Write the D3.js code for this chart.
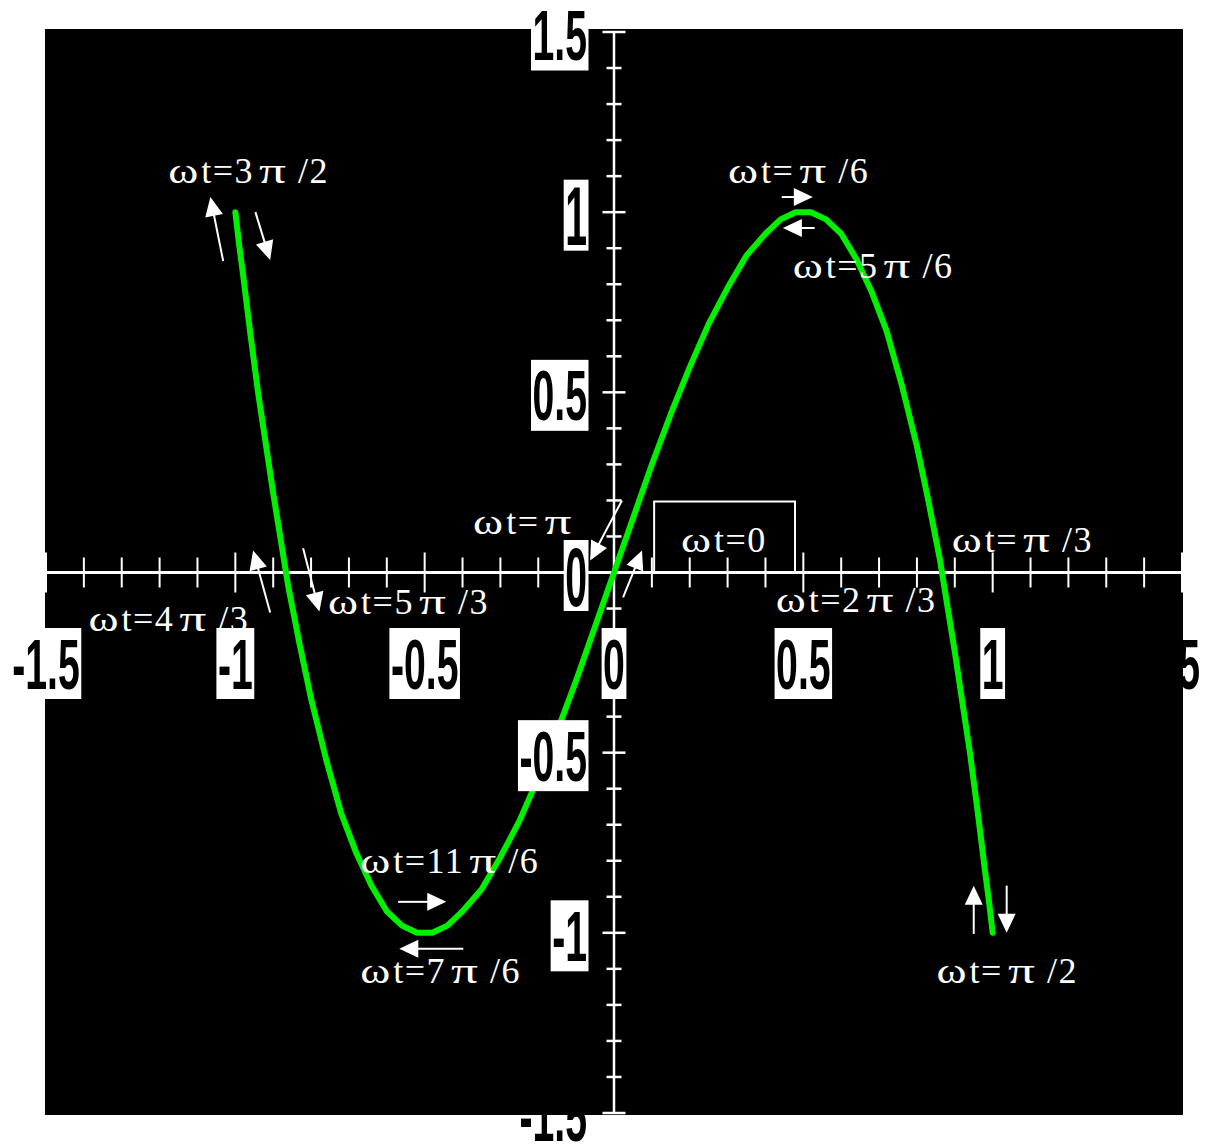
<!DOCTYPE html>
<html>
<head>
<meta charset="utf-8">
<script src="https://cdn.jsdelivr.net/npm/d3@7/dist/d3.min.js"></script>
<style>
  body { margin: 0; background: #fff; }
  svg { display: block; }
</style>
</head>
<body>
<svg id="chart" width="1207" height="1145"></svg>
<script>
// Trajectory of the point, x against y, sampled along the curve
const curveX = [-1.00, -0.99, -0.98, -0.96, -0.94, -0.92, -0.90, -0.88, -0.86, -0.83, -0.80, -0.76, -0.72, -0.68, -0.64, -0.60, -0.56, -0.52, -0.50, -0.48, -0.44, -0.40, -0.35, -0.30, -0.25, -0.20, -0.15, -0.10, -0.05,
                 0.00, 0.05, 0.10, 0.15, 0.20, 0.25, 0.30, 0.35, 0.40, 0.44, 0.48, 0.50, 0.52, 0.56, 0.60, 0.64, 0.68, 0.72, 0.76, 0.80, 0.83, 0.86, 0.88, 0.90, 0.92, 0.94, 0.96, 0.98, 0.99, 1.00];
const curveY = [1.00, 0.91, 0.83, 0.66, 0.50, 0.36, 0.22, 0.09, -0.04, -0.20, -0.35, -0.52, -0.67, -0.78, -0.87, -0.94, -0.98, -1.00, -1.00, -1.00, -0.98, -0.94, -0.88, -0.79, -0.69, -0.57, -0.44, -0.30, -0.15,
                 0.00, 0.15, 0.30, 0.44, 0.57, 0.69, 0.79, 0.88, 0.94, 0.98, 1.00, 1.00, 1.00, 0.98, 0.94, 0.87, 0.78, 0.67, 0.52, 0.35, 0.20, 0.04, -0.09, -0.22, -0.36, -0.50, -0.66, -0.83, -0.91, -1.00];

// Axis ticks
const xTickValues = [-1.5, -1, -0.5, 0, 0.5, 1, 1.5];
const xTickLabels = ["-1.5", "-1", "-0.5", "0", "0.5", "1", "1.5"];
const yTickValues = [-1.5, -1, -0.5, 0, 0.5, 1, 1.5];
const yTickLabels = ["-1.5", "-1", "-0.5", "0", "0.5", "1", "1.5"];

// Phase annotations (text anchored at its left baseline, in data units)
const phaseText = ["ωt=3π/2", "ωt=π/6", "ωt=5π/6", "ωt=π", "ωt=0", "ωt=π/3", "ωt=2π/3", "ωt=4π/3", "ωt=5π/3", "ωt=11π/6", "ωt=7π/6", "ωt=π/2"];
const phaseX    = [-1.177, 0.301, 0.472, -0.372, 0.177, 0.892, 0.427, -1.388, -0.755, -0.670, -0.670, 0.852];
const phaseY    = [1.081, 1.081, 0.817, 0.108, 0.056, 0.058, -0.111, -0.161, -0.114, -0.833, -1.139, -1.139];

// Frame drawn around the starting phase label
const startBoxX = [0.106, 0.478];
const startBoxY = [0.000, 0.197];

// Direction arrows (from → to, data units)
const arrowX1 = [-1.032, -0.947, 0.443, 0.530, -0.570, -0.398, 0.950, 1.037, 0.021, 0.024, -0.908, -0.821];
const arrowY1 = [0.864, 1.000, 1.042, 0.956, -0.914, -1.044, -1.003, -0.869, 0.200, -0.069, -0.111, 0.067];
const arrowX2 = [-1.066, -0.908, 0.525, 0.446, -0.443, -0.567, 0.950, 1.037, -0.063, 0.074, -0.953, -0.778];
const arrowY2 = [1.042, 0.867, 1.042, 0.956, -0.914, -1.044, -0.869, -1.000, 0.033, 0.061, 0.061, -0.108];

const svg = d3.select("#chart");
const W = 1207, H = 1145;

const x = d3.scaleLinear().domain([-1.5, 1.5]).range([46, 1182]);
const y = d3.scaleLinear().domain([-1.5, 1.5]).range([1113, 32]);

const plot = { left: 45, right: 1183, top: 29, bottom: 1115 };

svg.append("rect").attr("width", W).attr("height", H).attr("fill", "#fff");

const labelFont = "'Liberation Sans', Arial, sans-serif";
const squeeze = 0.56;

// Draws a condensed bold tick label, optionally on a white plate
function tickLabel(parent, txt, cx, anchor, cy, withPlate, maxRight, stretch = 1) {
  const g = parent.append("g");
  const t = g.append("text")
    .attr("font-family", labelFont)
    .attr("font-weight", "bold")
    .attr("font-size", 70)
    .attr("fill", "#000")
    .attr("text-anchor", "start")
    .text(txt);
  const bb = t.node().getBBox();
  const w = bb.width * squeeze;
  let left;
  if (anchor === "middle") left = cx - w / 2;
  else left = cx - w; // right aligned
  if (maxRight !== undefined && left + w > maxRight) left = maxRight - w;
  t.attr("transform", `translate(${left},${cy + 25 * stretch}) scale(${squeeze},${stretch})`);
  if (withPlate) {
    g.insert("rect", "text")
      .attr("x", left - 1.5).attr("y", cy - 35.5)
      .attr("width", w + 3).attr("height", 71)
      .attr("fill", "#fff");
  }
  return g;
}

// Labels sitting at the far right / bottom edge show only outside the dark panel
const under = svg.append("g");
xTickValues.forEach((v, i) => {
  if (v === x.domain()[1]) tickLabel(under, xTickLabels[i], x(v), "middle", 663.5, false, 1200);
});
yTickValues.forEach((v, i) => {
  if (v === y.domain()[0]) tickLabel(under, yTickLabels[i], x(0) - 27, "end", y(v) + 3, false);
});

// Dark panel
svg.append("rect")
  .attr("x", plot.left).attr("y", plot.top)
  .attr("width", plot.right - plot.left).attr("height", plot.bottom - plot.top)
  .attr("fill", "#000");

// Axes through the origin
const axes = svg.append("g").attr("stroke", "#fff");
axes.append("line")
  .attr("x1", plot.left).attr("x2", plot.right)
  .attr("y1", y(0)).attr("y2", y(0))
  .attr("stroke-width", 3);
axes.append("line")
  .attr("x1", x(0)).attr("x2", x(0))
  .attr("y1", y(1.5) - 1).attr("y2", y(-1.5))
  .attr("stroke-width", 2.5);

const minorTicks = d3.range(-15, 16).map(k => k / 10);
const isMajor = v => Math.abs(Math.round(v * 2) - v * 2) < 1e-9;

axes.selectAll("line.xt").data(minorTicks.filter(v => v !== 0)).join("line")
  .attr("class", "xt")
  .attr("x1", d => x(d)).attr("x2", d => x(d))
  .attr("y1", d => y(0) - (isMajor(d) ? 20 : 15))
  .attr("y2", d => y(0) + (isMajor(d) ? 20 : 15))
  .attr("stroke-width", 2);

axes.selectAll("line.yt").data(minorTicks.filter(v => v !== 0)).join("line")
  .attr("class", "yt")
  .attr("x1", d => x(0) - (isMajor(d) ? 11.5 : 7.5))
  .attr("x2", d => x(0) + (isMajor(d) ? 11.5 : 7.5))
  .attr("y1", d => y(d)).attr("y2", d => y(d))
  .attr("stroke-width", 2.5);

// Curve
const pts = curveX.map((v, i) => [v, curveY[i]]);
svg.append("path")
  .datum(pts)
  .attr("fill", "none")
  .attr("stroke", "#00f000")
  .attr("stroke-width", 6)
  .attr("stroke-linejoin", "round")
  .attr("stroke-linecap", "round")
  .attr("d", d3.line().x(d => x(d[0])).y(d => y(d[1])).curve(d3.curveLinear));

// Tick labels on white plates
const labels = svg.append("g");
xTickValues.forEach((v, i) => {
  if (v === x.domain()[1]) return;
  tickLabel(labels, xTickLabels[i], x(v), "middle", 663.5, true);
});
yTickValues.forEach((v, i) => {
  if (v === y.domain()[0]) return;
  const single = yTickLabels[i].length === 1;
  tickLabel(labels, yTickLabels[i], x(0) - 27, "end", y(v) + 3, true, undefined, single ? 1.2 : 1);
});

// Frame around the start label
svg.append("rect")
  .attr("x", x(startBoxX[0])).attr("y", y(startBoxY[1]))
  .attr("width", x(startBoxX[1]) - x(startBoxX[0]))
  .attr("height", y(startBoxY[0]) - y(startBoxY[1]))
  .attr("fill", "none").attr("stroke", "#fff").attr("stroke-width", 2);

// Phase labels: Greek letters are widened to the look of a symbol font
const ann = svg.append("g")
  .attr("font-family", "'Liberation Serif', 'Times New Roman', serif")
  .attr("font-size", 36)
  .attr("letter-spacing", 1.5)
  .attr("fill", "#fff");
phaseText.forEach((s, i) => {
  const t = ann.append("text").attr("x", x(phaseX[i])).attr("y", y(phaseY[i]));
  const parts = s.match(/ω|π|[^ωπ]+/g);
  parts.forEach((p, j) => {
    let dx = 0;
    if (p === "π") dx = 5;
    if (j > 0 && parts[j - 1] === "π") dx = 12;
    if (j > 0 && parts[j - 1] === "ω") dx = 3;
    const ts = t.append("tspan").attr("dx", dx).text(p);
    if (p === "ω") {
      ts.attr("letter-spacing", 0).attr("textLength", 30).attr("lengthAdjust", "spacingAndGlyphs");
    } else if (p === "π") {
      ts.attr("letter-spacing", 0).attr("textLength", 27).attr("lengthAdjust", "spacingAndGlyphs");
    }
  });
});

// Arrows
const arrows = svg.append("g");
arrowX1.forEach((_, i) => {
  const x1 = x(arrowX1[i]), y1 = y(arrowY1[i]);
  const x2 = x(arrowX2[i]), y2 = y(arrowY2[i]);
  const len = Math.hypot(x2 - x1, y2 - y1);
  const ux = (x2 - x1) / len, uy = (y2 - y1) / len;
  const hl = 19, hw = 9;
  const bx = x2 - ux * hl, by = y2 - uy * hl;
  arrows.append("line")
    .attr("x1", x1).attr("y1", y1)
    .attr("x2", bx + ux * 2).attr("y2", by + uy * 2)
    .attr("stroke", "#fff").attr("stroke-width", 2);
  arrows.append("path")
    .attr("d", `M${x2},${y2}L${bx - uy * hw},${by + ux * hw}L${bx + uy * hw},${by - ux * hw}Z`)
    .attr("fill", "#fff");
});
</script>
</body>
</html>
